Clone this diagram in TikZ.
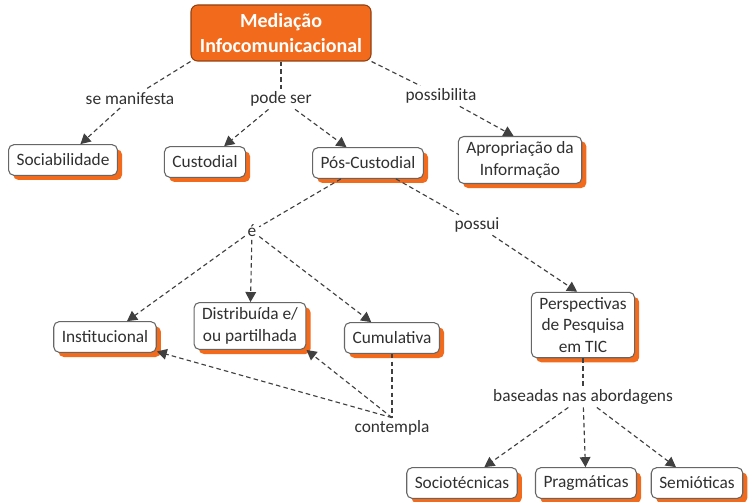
\documentclass[tikz,border=0pt]{standalone}
\usepackage{fontspec}
\setmainfont{Carlito}
\usetikzlibrary{arrows.meta, shadows, calc}
\definecolor{mainorange}{HTML}{F26B1D}
\definecolor{edgegray}{HTML}{404040}
\definecolor{textgray}{HTML}{303030}

\begin{document}
\begin{tikzpicture}[
    x=0.75pt, y=-0.75pt,
    font=\fontsize{13}{16}\selectfont,
    text=textgray,
    >={Triangle[length=7.5pt, width=8pt]},
    concept/.style={draw=gray!80!black, line width=0.8pt, rectangle, rounded corners=4pt, fill=white, align=center, inner xsep=6pt, inner ysep=4pt, minimum height=23pt, drop shadow={shadow xshift=3.5pt, shadow yshift=-3.5pt, fill=mainorange, opacity=1}},
    mainconcept/.style={draw=mainorange!60!black, line width=0.8pt, rectangle, rounded corners=5pt, fill=mainorange, text=white, align=center, font=\fontsize{15}{19}\selectfont\bfseries, minimum width=135pt, minimum height=42pt},
    linkword/.style={inner sep=2pt},
    link/.style={draw=edgegray, line width=0.85pt, dash pattern=on 3.4pt off 2.4pt},
    signal/.style={link, ->}
]
    \useasboundingbox (0,0) rectangle (748,502);

    % Concepts
    \node [mainconcept] (Mediacao) at (281,33) {Mediação\\Infocomunicacional};
    \node [concept] (Sociab) at (63,160) {Sociabilidade};
    \node [concept] (Custodial) at (205,162) {Custodial};
    \node [concept] (PosCust) at (368,163) {Pós-Custodial};
    \node [concept] (Apropr) at (520,160) {Apropriação da\\Informação};
    \node [concept] (Instit) at (105,337) {Institucional};
    \node [concept] (Distrib) at (250,326) {Distribuída e/\\ou partilhada};
    \node [concept] (Cumul) at (392,338) {Cumulativa};
    \node [concept] (Perspect) at (583,325) {Perspectivas\\de Pesquisa\\em TIC};
    \node [concept] (Socio) at (462,483) {Sociotécnicas};
    \node [concept] (Pragm) at (586,483) {Pragmáticas};
    \node [concept] (Semio) at (697,483) {Semióticas};

    % Linking words
    \node [linkword] (lblManif) at (130,99) {se manifesta};
    \node [linkword] (lblPode) at (281,99) {pode ser};
    \node [linkword] (lblPossib) at (441,96) {possibilita};
    \node [linkword] (lblE) at (252,231) {é};
    \node [linkword] (lblPossui) at (477,225) {possui};
    \node [linkword] (lblContempla) at (392,428) {contempla};
    \node [linkword] (lblBase) at (583,397) {baseadas nas abordagens};

    % 1. Top level
    \draw [link] (Mediacao.south west) -- (lblManif);
    \draw [signal] (lblManif) -- (Sociab);
    \draw [link] (Mediacao) -- (lblPode);
    \draw [signal] (lblPode) -- (Custodial);
    \draw [signal] (lblPode) -- (PosCust);
    \draw [link] (Mediacao.south east) -- (lblPossib);
    \draw [signal] (lblPossib) -- (Apropr.105);

    % 2. Pos-Custodial branches
    \draw [link] (PosCust) -- (lblE);
    \draw [signal] (lblE) -- (Instit);
    \draw [signal] (lblE) -- (Distrib);
    \draw [signal] (lblE) -- (Cumul);
    \draw [link] (PosCust) -- (lblPossui);
    \draw [signal] (lblPossui) -- (Perspect.100);

    % 3. Cumulativa contempla
    \draw [link] (Cumul) -- (lblContempla);
    \draw [signal] (lblContempla.north) -- (Instit);
    \draw [signal] (lblContempla.north) -- (Distrib.south east);

    % 4. Approaches
    \draw [link] (Perspect) -- (lblBase);
    \draw [signal] (lblBase) -- (Socio);
    \draw [signal] (lblBase) -- (Pragm);
    \draw [signal] (lblBase) -- (Semio);

\end{tikzpicture}
\end{document}
